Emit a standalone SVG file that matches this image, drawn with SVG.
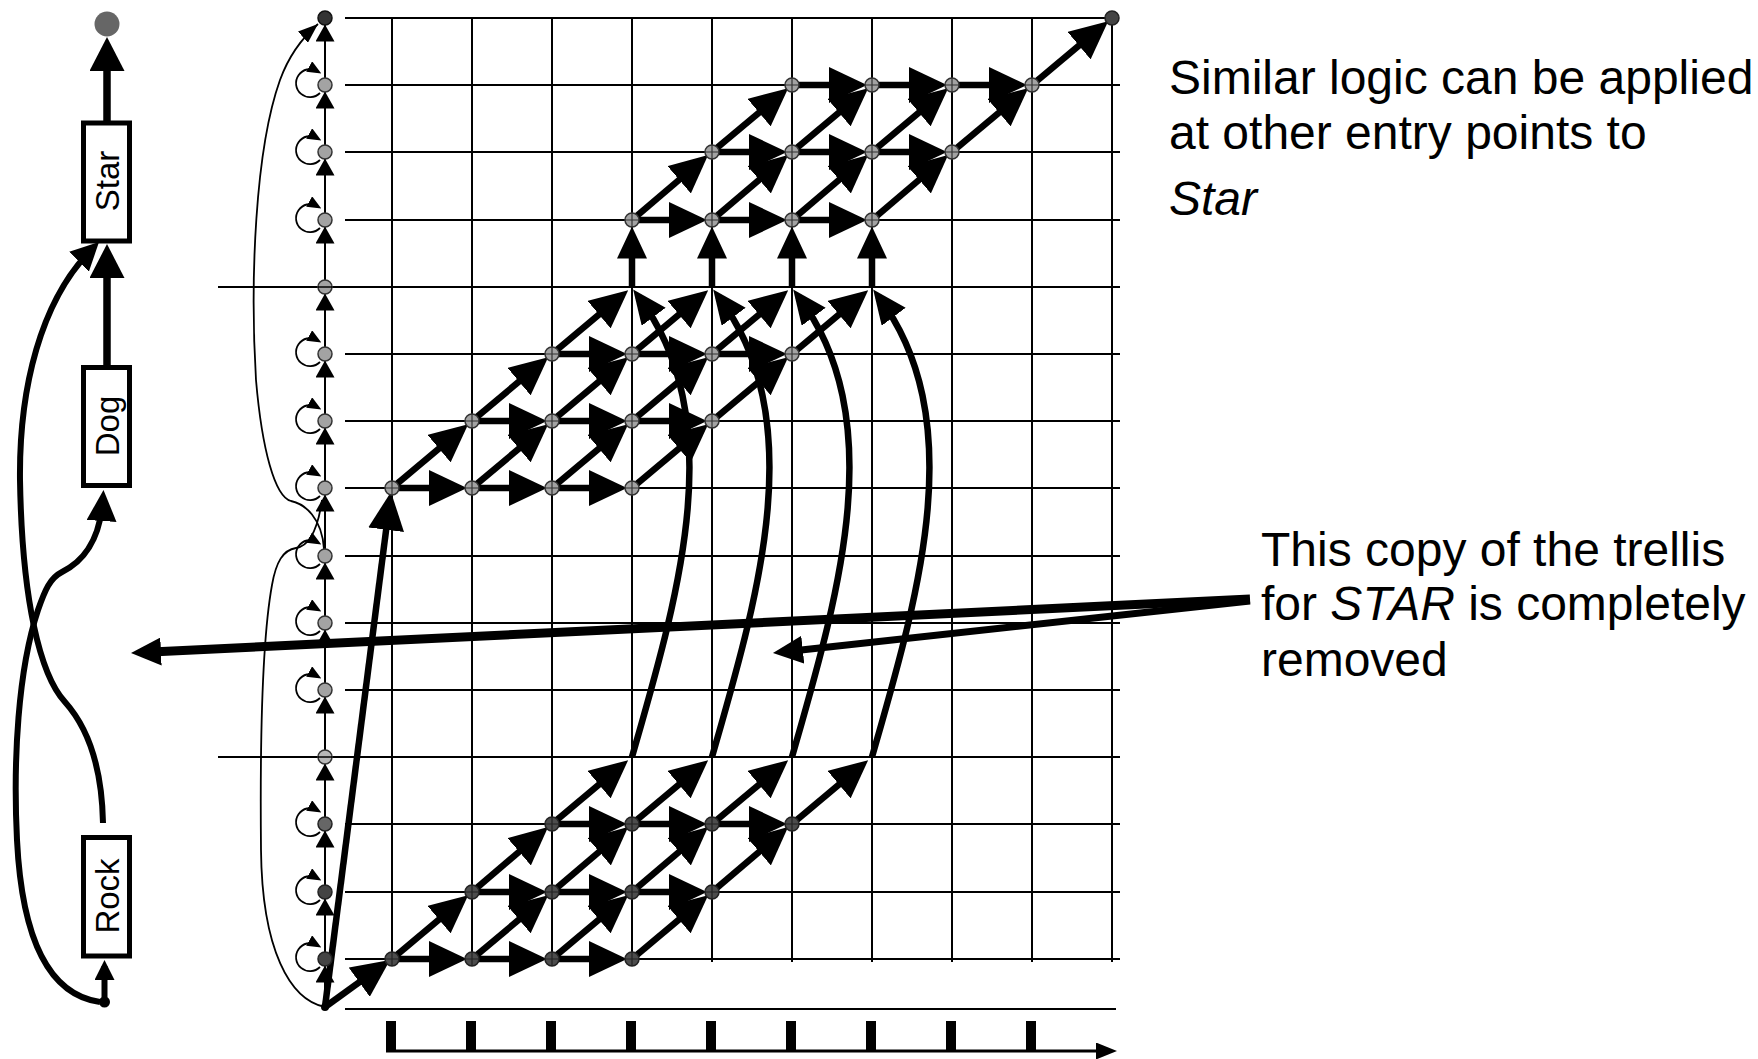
<svg xmlns="http://www.w3.org/2000/svg" width="1758" height="1059" viewBox="0 0 1758 1059">
<style>
.grid{stroke:#000;stroke-width:2;fill:none}
.thick{stroke:#000;stroke-width:6.5;fill:none}
.col{stroke:#000;stroke-width:2;fill:none}
.thin{stroke:#000;stroke-width:1.8;fill:none}
.net{stroke:#000;stroke-width:6;fill:none}
.net7{stroke:#000;stroke-width:7.5;fill:none}
.box{fill:#fff;stroke:#000;stroke-width:5}
.lbl{font-family:"Liberation Sans",Arial,sans-serif;font-size:33px;fill:#000}
.txt{font-family:"Liberation Sans",Arial,sans-serif;font-size:48px;fill:#000}
.nl{fill:#a3a3a3;stroke:#333;stroke-width:1.5}
.nd{fill:#4d4d4d;stroke:#222;stroke-width:1.5}
</style>
<defs>
<marker id="aT" viewBox="0 0 38 36" markerWidth="38" markerHeight="36" refX="28" refY="18" orient="auto" markerUnits="userSpaceOnUse"><path d="M0,0L38,18L0,36z"/></marker>
<marker id="aV" viewBox="0 0 32 30" markerWidth="32" markerHeight="30" refX="22" refY="15" orient="auto" markerUnits="userSpaceOnUse"><path d="M0,0L32,15L0,30z"/></marker>
<marker id="aC" viewBox="0 0 34 30" markerWidth="34" markerHeight="30" refX="26" refY="15" orient="auto" markerUnits="userSpaceOnUse"><path d="M0,0L34,15L0,30z"/></marker>
<marker id="aS" viewBox="0 0 17 19" markerWidth="17" markerHeight="19" refX="17" refY="9.5" orient="auto" markerUnits="userSpaceOnUse"><path d="M0,0L17,9.5L0,19z"/></marker>
<marker id="aL" viewBox="0 0 14 12" markerWidth="14" markerHeight="12" refX="9" refY="6" orient="auto" markerUnits="userSpaceOnUse"><path d="M0,0L14,6L0,12z"/></marker>
<marker id="aTh" viewBox="0 0 20 15" markerWidth="20" markerHeight="15" refX="20" refY="7.5" orient="auto" markerUnits="userSpaceOnUse"><path d="M0,0L20,7.5L0,15z"/></marker>
<marker id="aN" viewBox="0 0 34 35" markerWidth="34" markerHeight="35" refX="24" refY="17.5" orient="auto" markerUnits="userSpaceOnUse"><path d="M0,0L34,17.5L0,35z"/></marker>
<marker id="aN2" viewBox="0 0 28 28" markerWidth="28" markerHeight="28" refX="20" refY="14" orient="auto" markerUnits="userSpaceOnUse"><path d="M0,0L28,14L0,28z"/></marker>
<marker id="aN3" viewBox="0 0 31 30" markerWidth="31" markerHeight="30" refX="23" refY="15" orient="auto" markerUnits="userSpaceOnUse"><path d="M0,0L31,15L0,30z"/></marker>
<marker id="aN4" viewBox="0 0 20 20" markerWidth="20" markerHeight="20" refX="14" refY="10" orient="auto" markerUnits="userSpaceOnUse"><path d="M0,0L20,10L0,20z"/></marker>
<marker id="aB" viewBox="0 0 30 28" markerWidth="30" markerHeight="28" refX="20" refY="14" orient="auto" markerUnits="userSpaceOnUse"><path d="M0,0L30,14L0,28z"/></marker>
<marker id="aX" viewBox="0 0 21 17" markerWidth="21" markerHeight="17" refX="11" refY="8.5" orient="auto" markerUnits="userSpaceOnUse"><path d="M0,0L21,8.5L0,17z"/></marker>
<g id="nL"><circle r="7" class="nl"/><path d="M-7,0H7M0,-7V7" stroke="#333" stroke-width="1.2"/></g>
<g id="nD"><circle r="7" class="nd"/><path d="M-7,0H7M0,-7V7" stroke="#222" stroke-width="1.2"/></g>
</defs>
<rect width="1758" height="1059" fill="#fff"/>

<g id="grid">
<path class="grid" d="M345,18H1112M345,85H1120M345,152H1120M345,220H1120M218,287H1120M345,354H1120M345,421H1120M345,488H1120M345,556H1120M345,623H1120M345,690H1120M218,757H1120M345,824H1120M345,892H1120M345,959H1120"/>
<path class="grid" d="M392,18V962M472,18V962M552,18V962M632,18V962M712,18V962M792,18V962M872,18V962M952,18V962M1032,18V962M1112,18V962"/>
<path class="grid" d="M345,1009H1116"/>
<g fill="#000">
<rect x="386" y="1021" width="10" height="31"/><rect x="466" y="1021" width="10" height="31"/><rect x="546" y="1021" width="10" height="31"/><rect x="626" y="1021" width="10" height="31"/><rect x="706" y="1021" width="10" height="31"/><rect x="786" y="1021" width="10" height="31"/><rect x="866" y="1021" width="10" height="31"/><rect x="946" y="1021" width="10" height="31"/><rect x="1026" y="1021" width="10" height="31"/>
</g>
<path d="M386,1051H1107" stroke="#000" stroke-width="3" fill="none" marker-end="url(#aX)"/>
</g>

<g id="connectors">
<path class="thin" d="M325,1007C290,1000 262,950 261,850C260,750 262,640 272,585C276,562 283,550 296,548C310,546 318,528 322,500"/>
<path class="thin" marker-end="url(#aTh)" d="M324,549C322,518 305,504 291,501C275,497 262,450 256,380C250,280 255,150 280,80C288,58 302,38 318,24"/>
<g class="col" marker-end="url(#aS)">
<path d="M325,78.5V24.5"/><path d="M325,145.5V91.5"/><path d="M325,213.5V158.5"/><path d="M325,280.5V226.5"/><path d="M325,347.5V293.5"/><path d="M325,414.5V360.5"/><path d="M325,481.5V427.5"/><path d="M325,549.5V494.5"/><path d="M325,616.5V562.5"/><path d="M325,683.5V629.5"/><path d="M325,750.5V696.5"/><path d="M325,817.5V763.5"/><path d="M325,885.5V830.5"/><path d="M325,952.5V898.5"/><path d="M325,1003V965.5"/>
</g>
<g class="thin" stroke-width="2" marker-end="url(#aL)">
<path d="M320,93A14 14 0 1 1 317,71"/><path d="M320,160A14 14 0 1 1 317,138"/><path d="M320,228A14 14 0 1 1 317,206"/>
<path d="M320,362A14 14 0 1 1 317,340"/><path d="M320,429A14 14 0 1 1 317,407"/><path d="M320,496A14 14 0 1 1 317,474"/>
<path d="M320,564A14 14 0 1 1 317,542"/><path d="M320,631A14 14 0 1 1 317,609"/><path d="M320,698A14 14 0 1 1 317,676"/>
<path d="M320,832A14 14 0 1 1 317,810"/><path d="M320,900A14 14 0 1 1 317,878"/><path d="M320,967A14 14 0 1 1 317,945"/>
</g>
<g class="thick" marker-end="url(#aT)">
<path d="M325,1007L389.7,501.9"/><path d="M325,1007L381.9,965.8"/>
<path d="M392,959H457"/><path d="M472,959H537"/><path d="M552,959H617"/>
<path d="M472,892H537"/><path d="M552,892H617"/><path d="M632,892H697"/>
<path d="M552,824H617"/><path d="M632,824H697"/><path d="M712,824H777"/>
<path d="M392,959L460.5,901.6"/><path d="M472,959L540.5,901.6"/><path d="M552,959L620.5,901.6"/><path d="M632,959L700.5,901.6"/>
<path d="M472,892L540.5,833.6"/><path d="M552,892L620.5,833.6"/><path d="M632,892L700.5,833.6"/><path d="M712,892L780.5,833.6"/>
<path d="M552,824L620.5,766.6"/><path d="M632,824L700.5,766.6"/><path d="M712,824L780.5,766.6"/><path d="M792,824L860.5,766.6"/>
<path d="M392,488H457"/><path d="M472,488H537"/><path d="M552,488H617"/>
<path d="M472,421H537"/><path d="M552,421H617"/><path d="M632,421H697"/>
<path d="M552,354H617"/><path d="M632,354H697"/><path d="M712,354H777"/>
<path d="M392,488L460.5,430.6"/><path d="M472,488L540.5,430.6"/><path d="M552,488L620.5,430.6"/><path d="M632,488L700.5,430.6"/>
<path d="M472,421L540.5,363.6"/><path d="M552,421L620.5,363.6"/><path d="M632,421L700.5,363.6"/><path d="M712,421L780.5,363.6"/>
<path d="M552,354L620.5,296.6"/><path d="M632,354L700.5,296.6"/><path d="M712,354L780.5,296.6"/><path d="M792,354L860.5,296.6"/>
<path d="M632,220H697"/><path d="M712,220H777"/><path d="M792,220H857"/>
<path d="M712,152H777"/><path d="M792,152H857"/><path d="M872,152H937"/>
<path d="M792,85H857"/><path d="M872,85H937"/><path d="M952,85H1017"/>
<path d="M632,220L700.5,161.6"/><path d="M712,220L780.5,161.6"/><path d="M792,220L860.5,161.6"/><path d="M872,220L940.5,161.6"/>
<path d="M712,152L780.5,94.6"/><path d="M792,152L860.5,94.6"/><path d="M872,152L940.5,94.6"/><path d="M952,152L1020.5,94.6"/>
<path d="M1032,85L1100.5,27.6"/>
</g>
<g class="thick" marker-end="url(#aV)">
<path d="M632,287V236.5"/><path d="M712,287V236.5"/><path d="M792,287V236.5"/><path d="M872,287V236.5"/>
</g>
<g class="thick" stroke-width="6" marker-end="url(#aC)">
<path d="M632,757C677,600 732,420 638,296"/>
<path d="M712,757C757,600 812,420 718,296"/>
<path d="M792,757C837,600 892,420 798,296"/>
<path d="M872,757C917,600 972,420 878,296"/>
</g>
<path class="net7" marker-end="url(#aN)" d="M107,121V47"/>
<path class="net7" marker-end="url(#aN)" d="M107,365V254"/>
<path class="net" marker-end="url(#aN4)" d="M104.5,1000V966"/>
<path class="net" marker-end="url(#aN2)" d="M103,823C102,770 90,730 65,702C40,675 22,600 20,480C19,390 40,300 93.3,247.7"/>
<path class="net" marker-end="url(#aN3)" d="M100,1002C50,995 22,940 17,840C13,760 18,670 38,610C45,590 50,578 62,572C80,563 100,545 103,498"/>
<path d="M1250,599L141,652.5" stroke="#000" stroke-width="9" fill="none" marker-end="url(#aB)"/>
<path d="M1250,601L782.9,651.9" stroke="#000" stroke-width="7" fill="none" marker-end="url(#aB)"/>
</g>

<g id="column-nodes">
<g id="c-end"><circle cx="325" cy="18" r="7" fill="#333" stroke="#111" stroke-width="1.5"/></g>
<g id="c1"><circle cx="325" cy="85" r="7" class="nl"/></g>
<g id="c2"><circle cx="325" cy="152" r="7" class="nl"/></g>
<g id="c3"><circle cx="325" cy="220" r="7" class="nl"/></g>
<g id="c4"><circle cx="325" cy="287" r="7" class="nl"/><path d="M318,287H332" stroke="#000" stroke-width="1.5"/></g>
<g id="c5"><circle cx="325" cy="354" r="7" class="nl"/></g>
<g id="c6"><circle cx="325" cy="421" r="7" class="nl"/></g>
<g id="c7"><circle cx="325" cy="488" r="7" class="nl"/></g>
<g id="c8"><circle cx="325" cy="556" r="7" class="nl"/></g>
<g id="c9"><circle cx="325" cy="623" r="7" class="nl"/></g>
<g id="c10"><circle cx="325" cy="690" r="7" class="nl"/></g>
<g id="c11"><circle cx="325" cy="757" r="7" fill="#b8b8b8" stroke="#333" stroke-width="1.5"/><path d="M318,757H332" stroke="#000" stroke-width="1.5"/></g>
<g id="c12"><circle cx="325" cy="824" r="7" fill="#666" stroke="#222" stroke-width="1.5"/></g>
<g id="c13"><circle cx="325" cy="892" r="7" fill="#444" stroke="#222" stroke-width="1.5"/></g>
<g id="c14"><circle cx="325" cy="959" r="7" fill="#444" stroke="#222" stroke-width="1.5"/></g>
<g id="c-start"><circle cx="325" cy="1007" r="4" fill="#000"/></g>
</g>

<g id="trellis-nodes">
<g id="rock-trellis">
<use href="#nD" x="392" y="959"/><use href="#nD" x="472" y="959"/><use href="#nD" x="552" y="959"/><use href="#nD" x="632" y="959"/>
<use href="#nD" x="472" y="892"/><use href="#nD" x="552" y="892"/><use href="#nD" x="632" y="892"/><use href="#nD" x="712" y="892"/>
<use href="#nD" x="552" y="824"/><use href="#nD" x="632" y="824"/><use href="#nD" x="712" y="824"/><use href="#nD" x="792" y="824"/>
</g>
<g id="dog-trellis">
<use href="#nL" x="392" y="488"/><use href="#nL" x="472" y="488"/><use href="#nL" x="552" y="488"/><use href="#nL" x="632" y="488"/>
<use href="#nL" x="472" y="421"/><use href="#nL" x="552" y="421"/><use href="#nL" x="632" y="421"/><use href="#nL" x="712" y="421"/>
<use href="#nL" x="552" y="354"/><use href="#nL" x="632" y="354"/><use href="#nL" x="712" y="354"/><use href="#nL" x="792" y="354"/>
</g>
<g id="star-trellis">
<use href="#nL" x="632" y="220"/><use href="#nL" x="712" y="220"/><use href="#nL" x="792" y="220"/><use href="#nL" x="872" y="220"/>
<use href="#nL" x="712" y="152"/><use href="#nL" x="792" y="152"/><use href="#nL" x="872" y="152"/><use href="#nL" x="952" y="152"/>
<use href="#nL" x="792" y="85"/><use href="#nL" x="872" y="85"/><use href="#nL" x="952" y="85"/><use href="#nL" x="1032" y="85"/>
</g>
<g id="final-node"><circle cx="1112" cy="18" r="7" fill="#444" stroke="#222" stroke-width="1.5"/></g>
</g>

<g id="network">
<g id="net-end"><circle cx="107" cy="24" r="12.5" fill="#666"/></g>
<g id="net-star"><rect x="83.5" y="123" width="46" height="118" class="box"/><text class="lbl" transform="translate(119,181) rotate(-90)" text-anchor="middle">Star</text></g>
<g id="net-dog"><rect x="83.5" y="367.5" width="46" height="118" class="box"/><text class="lbl" transform="translate(119,426) rotate(-90)" text-anchor="middle">Dog</text></g>
<g id="net-rock"><rect x="83.5" y="837.5" width="46" height="118.5" class="box"/><text class="lbl" transform="translate(119,896) rotate(-90)" text-anchor="middle">Rock</text></g>
<g id="net-start"><circle cx="104.5" cy="1002" r="5.5" fill="#000"/></g>
</g>

<g id="notes">
<text class="txt" x="1169" y="94">Similar logic can be applied</text>
<text class="txt" x="1169" y="149">at other entry points to</text>
<text class="txt" x="1169" y="215" font-style="italic">Star</text>
<text class="txt" x="1261" y="566">This copy of the trellis</text>
<text class="txt" x="1261" y="620">for <tspan font-style="italic">STAR</tspan> is completely</text>
<text class="txt" x="1261" y="676">removed</text>
</g>
</svg>
